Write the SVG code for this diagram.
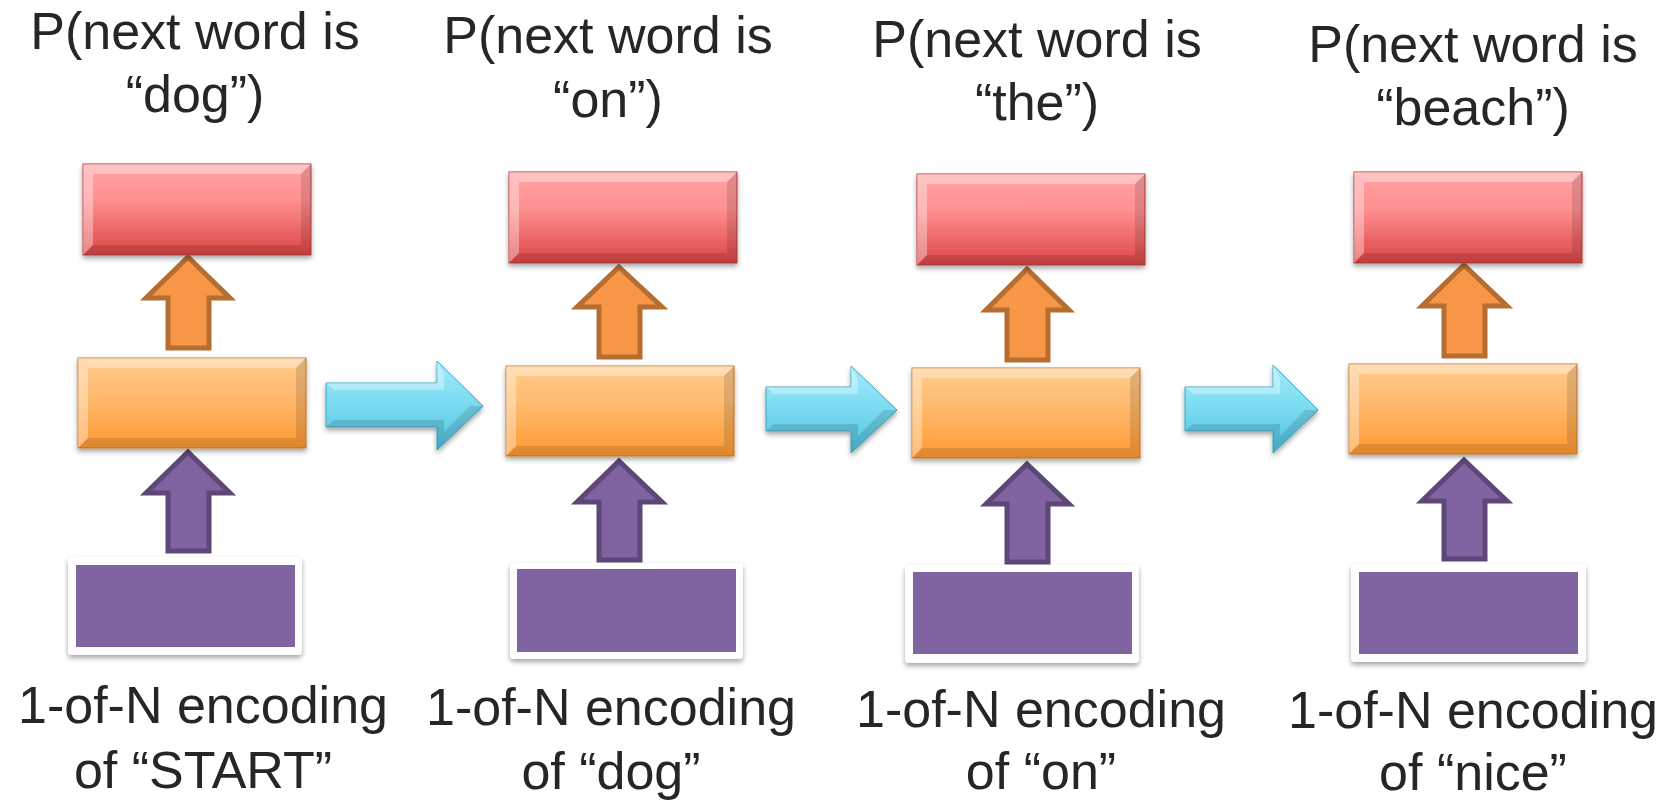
<svg xmlns="http://www.w3.org/2000/svg" xmlns:xlink="http://www.w3.org/1999/xlink" width="1670" height="802" viewBox="0 0 1670 802">
<style>
text{font-family:"Liberation Sans",Arial,sans-serif;font-size:52px;fill:#262626;text-anchor:middle}
.oarrow{fill:#f79646;stroke:#b66d31;stroke-width:5;stroke-linejoin:miter}
.parrow{fill:#8064a2;stroke:#5c4776;stroke-width:5;stroke-linejoin:miter}
.frame{fill:#ffffff;filter:url(#shadow)}
.pbox{fill:#8064a2}
.cyan{fill:url(#gCyan);stroke:#3ea7c2;stroke-width:1;filter:url(#shadow)}
.hl{fill:#ffffff;opacity:0.35}
.dk{fill:#000000;opacity:0.12}
</style>
<defs>
<linearGradient id="gRed" x1="0" y1="0" x2="0" y2="1">
<stop offset="0" stop-color="#ffa3a3"/>
<stop offset="0.4" stop-color="#ff9090"/>
<stop offset="1" stop-color="#dc4545"/>
</linearGradient>
<linearGradient id="gOrange" x1="0" y1="0" x2="0" y2="1">
<stop offset="0" stop-color="#ffcb8d"/>
<stop offset="0.4" stop-color="#ffbb70"/>
<stop offset="1" stop-color="#ff9a33"/>
</linearGradient>
<linearGradient id="gCyan" x1="0" y1="0" x2="0" y2="1">
<stop offset="0" stop-color="#a3edfb"/>
<stop offset="0.45" stop-color="#7ddcf2"/>
<stop offset="1" stop-color="#4fc2de"/>
</linearGradient>
<filter id="shadow" x="-10%" y="-10%" width="120%" height="130%">
<feDropShadow dx="0" dy="3" stdDeviation="2.5" flood-color="#000" flood-opacity="0.35"/>
</filter>
<g id="redBox">
<rect x="0" y="0" width="228" height="91" fill="url(#gRed)" stroke="#b83c3c" stroke-width="1" filter="url(#shadow)"/>
<polygon class="hl" points="0,0 228,0 218,10 10,10"/>
<polygon class="hl" points="0,0 10,10 10,81 0,91" opacity="0.2"/>
<polygon class="dk" points="0,91 228,91 218,81 10,81"/>
<polygon class="dk" points="228,0 228,91 218,81 218,10" opacity="0.2"/>
</g>
<g id="orangeBox">
<rect x="0" y="0" width="228" height="90" fill="url(#gOrange)" stroke="#c87a2c" stroke-width="1" filter="url(#shadow)"/>
<polygon class="hl" points="0,0 228,0 218,10 10,10"/>
<polygon class="hl" points="0,0 10,10 10,80 0,90" opacity="0.2"/>
<polygon class="dk" points="0,90 228,90 218,80 10,80"/>
<polygon class="dk" points="228,0 228,90 218,80 218,10" opacity="0.2"/>
</g>
</defs>
<rect x="0" y="0" width="1670" height="802" fill="#ffffff"/>

<g id="connectors">
<g id="cyan1">
<polygon class="cyan" points="326,383 437,383 437,361 483,406 437,450 437,427 326,427"/>
<polygon class="hl" points="326,383 437,383 437,361 444,375 444,390 334,390"/>
<polygon class="dk" points="326,427 437,427 437,450 483,406 470,406 444,432 444,420 334,420"/>
</g>
<g id="cyan2">
<polygon class="cyan" points="766,387 851,387 851,366 897,410 851,453 851,431 766,431"/>
<polygon class="hl" points="766,387 851,387 851,366 858,380 858,394 774,394"/>
<polygon class="dk" points="766,431 851,431 851,453 897,410 884,410 858,436 858,424 774,424"/>
</g>
<g id="cyan3">
<polygon class="cyan" points="1185,387 1273,387 1273,365 1318,410 1273,453 1273,431 1185,431"/>
<polygon class="hl" points="1185,387 1273,387 1273,365 1280,379 1280,394 1193,394"/>
<polygon class="dk" points="1185,431 1273,431 1273,453 1318,410 1305,410 1280,436 1280,424 1193,424"/>
</g>
<polygon id="o1" class="oarrow" points="188,257 230,298 209,298 209,348 168,348 168,298 146,298"/>
<polygon id="p1" class="parrow" points="188,452 230,493 209,493 209,551 168,551 168,493 146,493"/>
<polygon id="o2" class="oarrow" points="619,267 662,307 640,307 640,357 599,357 599,307 577,307"/>
<polygon id="p2" class="parrow" points="619,461 662,502 640,502 640,560 599,560 599,502 577,502"/>
<polygon id="o3" class="oarrow" points="1027,269 1069,310 1048,310 1048,360 1007,360 1007,310 986,310"/>
<polygon id="p3" class="parrow" points="1027,464 1069,504 1048,504 1048,562 1007,562 1007,504 986,504"/>
<polygon id="o4" class="oarrow" points="1464,265 1507,306 1485,306 1485,356 1444,356 1444,306 1422,306"/>
<polygon id="p4" class="parrow" points="1464,460 1507,501 1485,501 1485,559 1444,559 1444,501 1422,501"/>
</g>

<g id="step1">
<text x="195" y="49">P(next word is</text>
<text x="195" y="112">“dog”)</text>
<use xlink:href="#redBox" x="83" y="164"/>
<use xlink:href="#orangeBox" x="78" y="358"/>
<rect class="frame" x="68" y="557" width="234" height="98" rx="4"/>
<rect class="pbox" x="76" y="565" width="219" height="82"/>
<text x="203" y="723">1-of-N encoding</text>
<text x="203" y="788">of “START”</text>
</g>

<g id="step2">
<text x="608" y="53">P(next word is</text>
<text x="608" y="117">“on”)</text>
<use xlink:href="#redBox" x="509" y="172"/>
<use xlink:href="#orangeBox" x="506" y="366"/>
<rect class="frame" x="510" y="563" width="233" height="96" rx="4"/>
<rect class="pbox" x="517" y="569" width="219" height="83"/>
<text x="611" y="725">1-of-N encoding</text>
<text x="611" y="789">of “dog”</text>
</g>

<g id="step3">
<text x="1037" y="57">P(next word is</text>
<text x="1037" y="120">“the”)</text>
<use xlink:href="#redBox" x="917" y="174"/>
<use xlink:href="#orangeBox" x="912" y="368"/>
<rect class="frame" x="905" y="565" width="234" height="98" rx="4"/>
<rect class="pbox" x="913" y="572" width="219" height="82"/>
<text x="1041" y="727">1-of-N encoding</text>
<text x="1041" y="789">of “on”</text>
</g>

<g id="step4">
<text x="1473" y="62">P(next word is</text>
<text x="1473" y="125">“beach”)</text>
<use xlink:href="#redBox" x="1354" y="172"/>
<use xlink:href="#orangeBox" x="1349" y="364"/>
<rect class="frame" x="1351" y="564" width="235" height="98" rx="4"/>
<rect class="pbox" x="1359" y="572" width="219" height="82"/>
<text x="1473" y="728">1-of-N encoding</text>
<text x="1473" y="790">of “nice”</text>
</g>
</svg>
